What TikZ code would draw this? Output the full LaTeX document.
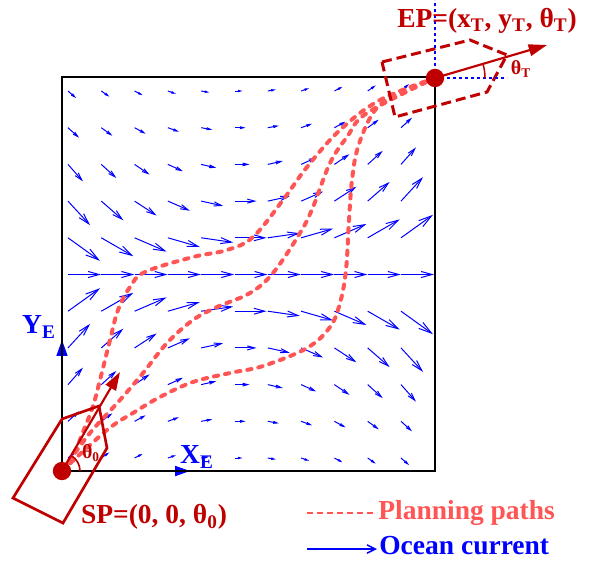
\documentclass[tikz,border=0pt]{standalone}
\usepackage{fontspec}
\setmainfont{Liberation Serif}
\usetikzlibrary{arrows.meta, angles, positioning}

\definecolor{darkred}{RGB}{192,0,0}
\definecolor{pathred}{RGB}{255,85,85}
\definecolor{flowblue}{RGB}{0,0,255}

\begin{document}
\begin{tikzpicture}[
    x=0.6pt, y=-0.6pt,
    font=\bfseries\fontsize{16.5}{18}\selectfont,
    current/.style={flowblue, line width=0.6pt},
    plan/.style={pathred, line width=2.4pt, line cap=round, dash pattern=on 2.6pt off 4.2pt},
    boat/.style={darkred, line width=1.6pt, line join=miter},
    heading/.style={darkred, line width=1.3pt, -{Triangle[length=11pt, width=7pt]}},
    axis/.style={flowblue, line width=1.2pt, -{Triangle[length=9pt, width=6pt]}},
    dot/.style={circle, fill=darkred, inner sep=0pt, minimum size=11pt},
    guide/.style={flowblue, line width=1.4pt, dash pattern=on 1.8pt off 1.8pt},
    small/.style={font=\bfseries\fontsize{12}{14}\selectfont},
  ]
  \useasboundingbox (0,0) rectangle (589,561);

  \foreach \r/\u/\w in {5/8/7, 4/11/10, 3/15/17, 2/22/24, 1/32/23, 0/33/0,
      -1/32/-23, -2/22/-24, -3/15/-17, -4/11/-10, -5/8/-7} {
    \foreach \c in {0,...,10} {
      \pgfmathsetmacro{\vdy}{\w*(5-\c)/5}
      \pgfmathsetmacro{\tiplen}{0.2*veclen(\u,\vdy)}
      \pgfmathsetmacro{\tipwid}{0.55*\tiplen}
      \draw[current, -{Straight Barb[length=\tiplen pt, width=\tipwid pt]}]
        (68+33.3*\c, 274.5-36.7*\r) -- ++(\u, \vdy);
    }
  }

  \coordinate (sp) at (62,471);
  \coordinate (ep) at (435,78);
  \coordinate (xe) at (190,471);
  \coordinate (ye) at (62,340);

  \draw[axis] (sp) -- (xe);
  \draw[axis, -{Triangle[length=9.5pt, width=6.5pt]}] (sp) -- (ye);
  \draw[black, line width=1.2pt] (62,77) rectangle (435,471);

  \node[flowblue] (xlab) at (197,457) {X\textsubscript{E}};
  \node[flowblue] (ylab) at (39,327) {Y\textsubscript{E}};

  \draw[plan] plot[smooth, tension=0.6] coordinates {(sp) (73,456) (83,432) (93,406)
    (101,376) (110,340) (118,310) (130,287) (145,272) (193,257) (227,250) (253,237)
    (283,200) (307,167) (340,130) (380,100) (ep)};
  \draw[plan] plot[smooth, tension=0.6] coordinates {(sp) (90,433) (120,400) (143,373)
    (167,343) (193,320) (217,307) (250,293) (273,273) (300,233) (313,207) (330,163)
    (347,137) (367,113) (ep)};
  \draw[plan] plot[smooth, tension=0.6] coordinates {(sp) (107,430) (133,413) (160,397)
    (193,382) (230,373) (263,366) (307,348) (330,327) (340,303) (346,270) (349,220)
    (352,180) (358,147) (373,113) (393,96) (ep)};

  \draw[boat] (13,498) -- (62,419) -- (99,406) -- (107,448) -- (63,523) -- cycle;
  \draw[boat, line width=1.8pt, dash pattern=on 6pt off 3pt]
    (382,62) -- (470,40) -- (507,55) -- (487,92) -- (395,117) -- cycle;

  \coordinate (h0) at (120,372);
  \coordinate (h1) at (547,45);
  \coordinate (et) at (435,0);
  \coordinate (ex) at (507,78);

  \draw[guide] (ep) -- (et);
  \draw[guide] (ep) -- (ex);
  \draw[heading] (sp) -- (h0);
  \draw[heading] (ep) -- (h1);

  \pic[draw=darkred, line width=1pt, angle radius=10.8pt] {angle=xe--sp--h0};
  \pic[draw=darkred, line width=0.9pt, angle radius=30pt] {angle=ex--ep--h1};

  \node[dot] (spdot) at (sp) {};
  \node[dot] (epdot) at (ep) {};

  \node[darkred] (eplab) at (487,21) {EP=(x\textsubscript{T}, y\textsubscript{T}, θ\textsubscript{T})};
  \node[darkred] (splab) at (154,517) {SP=(0, 0, θ\textsubscript{0})};
  \node[darkred, small] (t0lab) at (91,453) {θ\textsubscript{0}};
  \node[darkred, small] (tTlab) at (521,69) {θ\textsubscript{T}};

  \coordinate (pa) at (307,513);
  \coordinate (pb) at (377,513);
  \coordinate (oa) at (307,549);
  \coordinate (ob) at (377,549);
  \draw[pathred, line width=1.7pt, dash pattern=on 3.6pt off 2.4pt] (pa) -- (pb);
  \node[pathred, anchor=west, inner sep=0pt] (plan) at (378,513) {Planning paths};
  \draw[flowblue, line width=0.9pt, -{Straight Barb[length=5pt, width=5pt]}] (oa) -- (ob);
  \node[flowblue, anchor=west, inner sep=0pt] (ocean) at (379,546) {Ocean current};
\end{tikzpicture}
\end{document}
